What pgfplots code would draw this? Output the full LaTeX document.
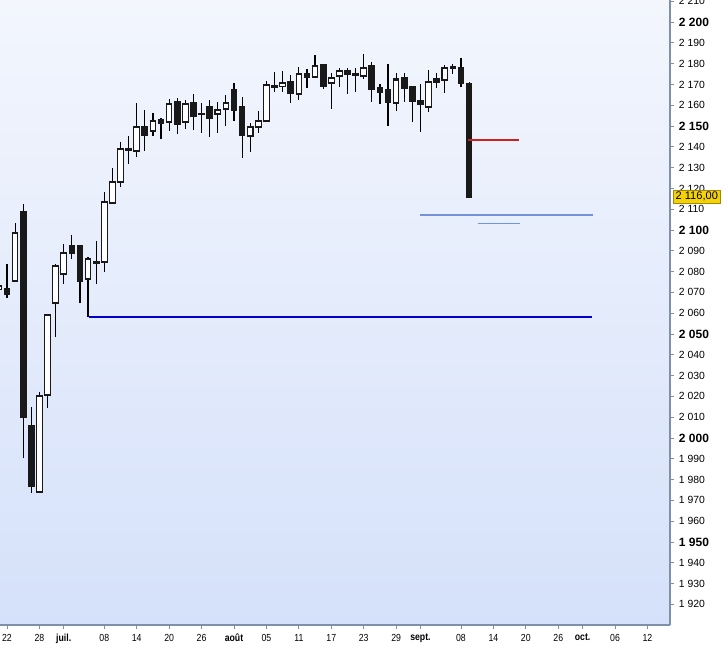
\documentclass[border=0pt]{standalone}
\usepackage{fontspec}
\setmainfont{Liberation Sans}
\newfontfamily\narrowfont[FakeStretch=0.85]{Liberation Sans}
\usepackage{pgfplots}
\usepackage{pgfplotstable}
\pgfplotsset{compat=1.18}
\definecolor{axisgray}{RGB}{128,144,168}
\definecolor{bgtop}{RGB}{243,246,253}
\definecolor{bgbot}{RGB}{213,225,250}
\definecolor{lineblue}{RGB}{0,0,200}
\definecolor{linered}{RGB}{206,32,32}
\definecolor{lightblue}{RGB}{115,148,218}
\definecolor{gold}{RGB}{244,210,10}
\definecolor{goldborder}{RGB}{165,135,0}

% i = weekday index (0 = 22 June), open high low close
\pgfplotstableread{
i o h l c
-1 2071.5 2074.0 2070.0 2073.0
0 2071.5 2083.5 2067.5 2069.1
1 2075.3 2103.5 2075.0 2098.4
2 2108.5 2112.5 1990.5 2010.2
3 2005.8 2014.7 1973.4 1976.9
4 1974.2 2022.0 1973.4 2020.2
5 2020.5 2059.6 2014.6 2059.1
6 2064.7 2083.5 2048.7 2082.7
7 2078.7 2093.3 2073.9 2089.0
8 2092.1 2097.6 2086.2 2088.8
9 2092.1 2092.5 2064.8 2075.3
10 2076.3 2087.0 2058.3 2086.2
11 2084.8 2094.7 2074.2 2084.4
12 2084.5 2118.1 2080.0 2113.3
13 2112.8 2129.7 2112.5 2122.9
14 2123.2 2142.2 2120.8 2138.8
15 2138.8 2145.2 2131.7 2138.4
16 2137.8 2160.9 2135.2 2149.7
17 2149.4 2157.7 2137.8 2145.5
18 2147.5 2156.1 2145.3 2152.6
19 2152.9 2154.0 2143.9 2151.6
20 2151.8 2163.0 2147.7 2160.6
21 2161.4 2163.3 2146.2 2150.8
22 2151.8 2162.5 2148.6 2160.4
23 2160.9 2165.4 2148.1 2154.9
24 2156.0 2161.2 2146.5 2155.8
25 2159.0 2162.5 2144.9 2153.7
26 2155.6 2161.4 2146.5 2157.5
27 2158.3 2164.9 2150.0 2160.9
28 2167.2 2170.5 2152.6 2157.5
29 2159.0 2163.8 2134.5 2145.5
30 2145.0 2151.3 2137.6 2149.7
31 2149.4 2157.4 2146.8 2152.4
32 2152.3 2171.6 2152.0 2169.7
33 2169.0 2175.8 2166.2 2168.8
34 2169.2 2176.4 2166.2 2170.5
35 2171.0 2174.5 2160.9 2165.7
36 2165.2 2178.5 2162.5 2174.9
37 2175.0 2177.3 2168.4 2173.4
38 2173.7 2184.3 2173.5 2178.8
39 2179.3 2179.5 2167.8 2169.4
40 2170.5 2175.3 2158.2 2172.9
41 2174.0 2178.0 2168.9 2176.6
42 2176.4 2177.7 2165.2 2174.9
43 2174.8 2177.7 2166.2 2174.6
44 2174.0 2184.6 2172.4 2178.0
45 2178.8 2180.8 2161.7 2167.6
46 2168.1 2170.2 2160.4 2166.5
47 2167.3 2179.8 2150.1 2161.4
48 2160.9 2175.3 2157.4 2172.4
49 2172.9 2175.6 2161.4 2168.1
50 2168.6 2169.4 2152.1 2162.2
51 2161.9 2170.2 2147.3 2160.4
52 2159.0 2176.9 2156.9 2171.0
53 2172.4 2175.3 2168.1 2171.0
54 2172.1 2179.3 2165.7 2177.7
55 2178.2 2179.8 2175.0 2177.8
56 2177.7 2182.5 2168.6 2170.5
57 2170.2 2171.3 2115.5 2116.0
}\candles

\begin{document}
\begin{tikzpicture}
\useasboundingbox (0,0) rectangle (544.5pt,483.75pt);
\begin{axis}[
  at={(0pt,15pt)}, anchor=south west,
  scale only axis, width=502.5pt, height=468.75pt,
  xmin=-0.863, xmax=81.78, ymin=1910.1, ymax=2210.6,
  axis x line*=bottom, axis y line*=right,
  axis line style={axisgray, line width=0.8pt},
  axis background/.style={shade, top color=bgtop, bottom color=bgbot},
  tick align=outside, major tick length=3.2pt,
  tick style={axisgray, line width=0.6pt},
  clip mode=individual,
  xtick={0,4,7,12,16,20,24,28,32,36,40,44,48,51,56,60,64,68,71,75,79},
  xticklabels={22,28,\textbf{juil.},08,14,20,26,\textbf{août},05,11,17,23,29,\textbf{sept.},08,14,20,26,\textbf{oct.},06,12},
  xticklabel style={font=\narrowfont\fontsize{7.7}{9}\selectfont, text=black},
  ytick={1920,1930,1940,1960,1970,1980,1990,2010,2020,2030,2040,2060,2070,2080,2090,2110,2120,2130,2140,2160,2170,2180,2190,2210},
  extra y ticks={1950,2000,2050,2100,2150,2200},
  extra y tick style={yticklabel style={font=\bfseries\fontsize{9}{10}\selectfont}},
  yticklabel style={font=\fontsize{7.8}{9}\selectfont, text=black},
  scaled y ticks=false,
  candle/.style={only marks, mark=*, mark size=0pt, mark options={draw=none, fill=none},
    error bars/y dir=both, error bars/y explicit, error bars/error mark=none},
  /pgf/number format/.cd, fixed, 1000 sep={\ }, assume math mode=true,
]
% wicks
\addplot[candle, /pgfplots/error bars/error bar style={draw=black, line width=0.9pt}]
  table[x=i, y expr={(\thisrow{h}+\thisrow{l})/2}, y error expr={(\thisrow{h}-\thisrow{l})/2}] {\candles};
% bodies (outline / black fill)
\addplot[candle, /pgfplots/error bars/error bar style={draw=black!90, line width=5.0pt}]
  table[x=i, y expr={(\thisrow{o}+\thisrow{c})/2}, y error expr={abs(\thisrow{o}-\thisrow{c})/2+0.5}] {\candles};
% white bodies (rising candles)
\addplot[candle, /pgfplots/error bars/error bar style={draw=white, line width=3.4pt}]
  table[x=i, y expr={(\thisrow{o}+\thisrow{c})/2}, y error expr={max((\thisrow{c}-\thisrow{o})/2-0.5,0)}] {\candles};
% horizontal levels
\addplot[lineblue, line width=1.8pt] coordinates {(10.1,2058.3) (72.2,2058.3)};
\addplot[linered, line width=1.6pt] coordinates {(56.9,2143.3) (63.2,2143.3)};
\addplot[lightblue, line width=0.9pt] coordinates {(51.0,2107.2) (72.3,2107.2)};
\addplot[lightblue, line width=0.9pt] coordinates {(58.1,2103.2) (63.3,2103.2)};
% last price label
\node[fill=gold, draw=goldborder, line width=0.5pt, anchor=west, inner xsep=1.5pt, inner ysep=0pt,
  minimum height=9.2pt, font=\fontsize{8.3}{9}\selectfont, xshift=2.5pt]
  at (axis cs:81.78,2116) {2 116,00};
\end{axis}
\end{tikzpicture}
\end{document}
